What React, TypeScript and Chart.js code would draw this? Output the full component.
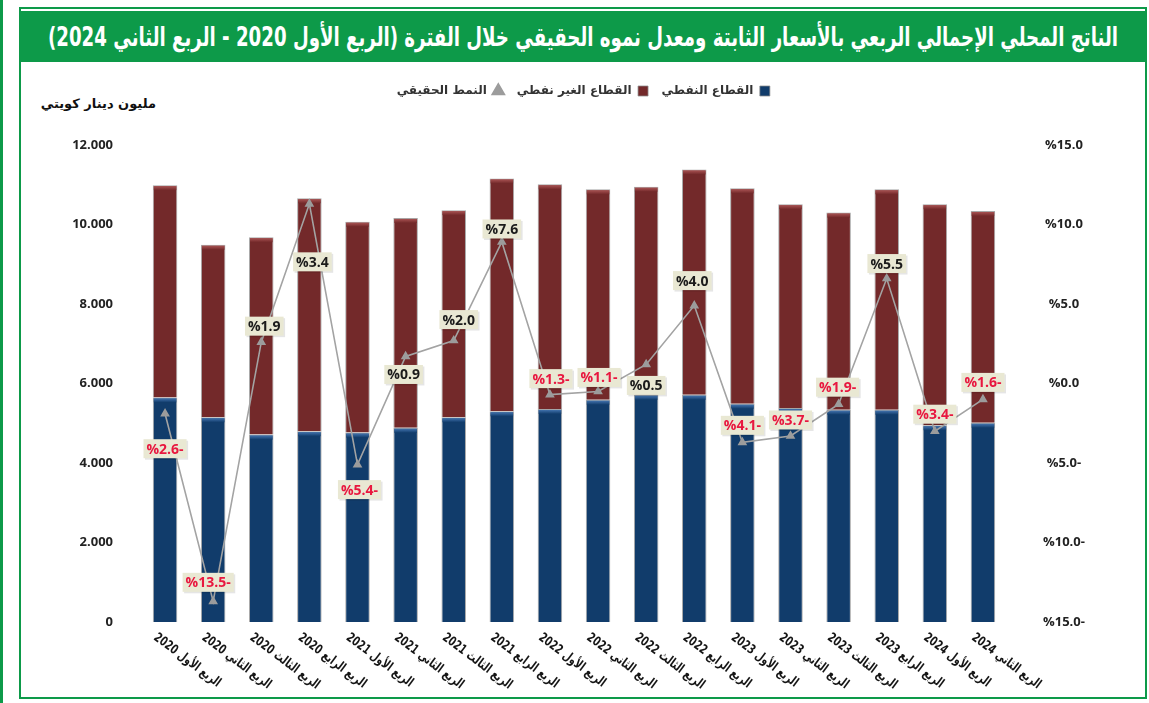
import React, { useEffect, useLayoutEffect, useRef } from 'react';
import { Chart, registerables } from 'chart.js';

Chart.register(...registerables);

// ---------- data ----------
const quarters = [
  'الربع الأول 2020', 'الربع الثاني 2020', 'الربع الثالث 2020', 'الربع الرابع 2020',
  'الربع الأول 2021', 'الربع الثاني 2021', 'الربع الثالث 2021', 'الربع الرابع 2021',
  'الربع الأول 2022', 'الربع الثاني 2022', 'الربع الثالث 2022', 'الربع الرابع 2022',
  'الربع الأول 2023', 'الربع الثاني 2023', 'الربع الثالث 2023', 'الربع الرابع 2023',
  'الربع الأول 2024', 'الربع الثاني 2024',
];

// million KWD
const oilSector = [5650, 5150, 4715, 4800, 4765, 4885, 5150, 5300, 5360, 5590, 5715, 5715, 5490, 5385, 5340, 5340, 4950, 5010];
const nonOilSector = [5340, 4340, 4965, 5860, 5305, 5280, 5210, 5860, 5650, 5295, 5235, 5670, 5420, 5125, 4960, 5545, 5560, 5330];

// real growth: plotted line positions (right axis, %) and the printed labels
const growthPlotted = [-1.9, -13.7, 2.6, 11.3, -5.1, 1.7, 2.7, 8.9, -0.7, -0.5, 1.2, 4.9, -3.7, -3.3, -1.3, 6.6, -3.0, -1.0];
const growthLabels = [-2.6, -13.5, 1.9, 3.4, -5.4, 0.9, 2.0, 7.6, -1.3, -1.1, 0.5, 4.0, -4.1, -3.7, -1.9, 5.5, -3.4, -1.6];

const leftTicks = { min: 0, max: 12000, step: 2000 };
const rightTicks = { min: -15, max: 15, step: 5 };

const seriesNames = ['القطاع النفطي', 'القطاع الغير نفطي', 'النمط الحقيقي'];
const titleText = 'الناتج المحلي الإجمالي الربعي بالأسعار الثابتة ومعدل نموه الحقيقي خلال الفترة (الربع الأول 2020 - الربع الثاني 2024)';
const unitText = 'مليون دينار كويتي';

// ---------- styles ----------
const GREEN = '#0d9a49';
const OIL = '#113c6b';
const OIL_CAP = '#4d7fbd';
const NONOIL = '#73292a';
const NONOIL_CAP = '#b55c5c';
const LINE = '#a3a3a3';
const LABEL_BG = '#e9e8d3';
const NEG = '#e8173f';
const ARABIC = '"DejaVu Sans", sans-serif';
const NUMFONT = '"Open Sans", "DejaVu Sans", sans-serif';

// label box offsets relative to each line point (px)
const labelNudge: [number, number][] = [
  [0, 35], [-5, -19], [3, -16], [3, 58], [2, 25], [-2, 18], [5, -21], [0, -13], [1, -16],
  [1, -14], [0, 21], [-2, -25], [0, -17], [0, -16], [-1, -17], [0, -15], [0, -17], [0, -17],
];

const fmtPct = (v: number) => '%' + Math.abs(v).toFixed(1) + (v < 0 ? '-' : '');

const legendSpacer = {
  id: 'legendSpacer',
  beforeInit(chart: any) {
    const fit = chart.legend.fit;
    chart.legend.fit = function () {
      fit.call(this);
      this.height += 38;
    };
  },
};

const forceLtr = {
  id: 'forceLtr',
  beforeDraw(chart: any) {
    chart.canvas.style.direction = 'ltr';
    (chart.ctx as any).direction = 'ltr';
  },
};

const barCaps = {
  id: 'barCaps',
  afterDatasetDraw(chart: any, args: any) {
    const meta = args.meta;
    if (meta.type !== 'bar') return;
    const ctx = chart.ctx;
    const cap = meta.index === 0 ? OIL_CAP : NONOIL_CAP;
    ctx.save();
    meta.data.forEach((el: any) => {
      const { x, y, width } = el.getProps(['x', 'y', 'width'], true);
      const g = ctx.createLinearGradient(0, y, 0, y + 5);
      g.addColorStop(0, cap);
      g.addColorStop(1, meta.index === 0 ? OIL : NONOIL);
      ctx.fillStyle = g;
      ctx.fillRect(x - width / 2 + 1, y + 1, width - 2, 4);
    });
    ctx.restore();
  },
};

const growthLabelPlugin = {
  id: 'growthLabelPlugin',
  afterDatasetsDraw(chart: any) {
    const meta = chart.getDatasetMeta(2);
    const ctx = chart.ctx;
    ctx.save();
    ctx.font = `bold 14px ${NUMFONT}`;
    ctx.textAlign = 'center';
    ctx.textBaseline = 'middle';
    (ctx as any).direction = 'ltr';
    meta.data.forEach((pt: any, i: number) => {
      const v = growthLabels[i];
      const text = fmtPct(v);
      const [dx, dy] = labelNudge[i];
      const cx = pt.x + dx;
      const cy = pt.y + dy;
      const w = ctx.measureText(text).width + 6;
      const h = 19;
      ctx.fillStyle = 'rgba(0,0,0,0.10)';
      ctx.fillRect(cx - w / 2 + 1.5, cy - h / 2 + 1.5, w, h);
      ctx.fillStyle = LABEL_BG;
      ctx.fillRect(cx - w / 2, cy - h / 2, w, h);
      ctx.fillStyle = v < 0 ? NEG : '#1b1b1b';
      ctx.fillText(text, cx, cy + 1);
    });
    ctx.restore();
  },
};

const xLabelPlugin = {
  id: 'xLabelPlugin',
  afterDraw(chart: any) {
    const xs = chart.scales.x;
    const ctx = chart.ctx;
    const bottom = chart.chartArea.bottom;
    ctx.save();
    ctx.font = `bold 13px ${ARABIC}`;
    ctx.fillStyle = '#151515';
    ctx.textAlign = 'left';
    ctx.textBaseline = 'top';
    (ctx as any).direction = 'rtl';
    quarters.forEach((q, i) => {
      const x = xs.getPixelForValue(i);
      ctx.save();
      ctx.translate(x - 6, bottom + 9);
      ctx.rotate((37 * Math.PI) / 180);
      ctx.scale(0.73, 1);
      ctx.fillText(q, 0, 0);
      ctx.restore();
    });
    ctx.restore();
  },
};

export default function App() {
  const canvasRef = useRef<HTMLCanvasElement>(null);
  const titleRef = useRef<HTMLSpanElement>(null);

  useLayoutEffect(() => {
    const el = titleRef.current;
    if (!el) return;
    el.style.transform = 'none';
    const w = el.getBoundingClientRect().width;
    if (w > 0) el.style.transform = `scaleX(${1070 / w})`;
  }, []);

  useEffect(() => {
    const canvas = canvasRef.current;
    if (!canvas) return;
    const chart = new Chart(canvas, {
      type: 'bar',
      data: {
        labels: quarters,
        datasets: [
          {
            type: 'bar',
            label: seriesNames[0],
            data: oilSector,
            backgroundColor: OIL,
            borderColor: 'rgba(140,140,140,0.75)',
            borderWidth: 1,
            yAxisID: 'y',
            stack: 'gdp',
            order: 1,
            pointStyle: 'rect',
            barPercentage: 0.51,
            categoryPercentage: 1,
          } as any,
          {
            type: 'bar',
            label: seriesNames[1],
            data: nonOilSector,
            backgroundColor: NONOIL,
            borderColor: 'rgba(140,140,140,0.75)',
            borderWidth: 1,
            yAxisID: 'y',
            stack: 'gdp',
            order: 1,
            pointStyle: 'rect',
            barPercentage: 0.51,
            categoryPercentage: 1,
          } as any,
          {
            type: 'line',
            label: seriesNames[2],
            data: growthPlotted,
            yAxisID: 'y1',
            borderColor: LINE,
            backgroundColor: '#9c9c9c',
            borderWidth: 1.6,
            pointStyle: 'triangle',
            pointRadius: 4,
            pointBackgroundColor: '#9c9c9c',
            pointBorderColor: '#9c9c9c',
            tension: 0,
            order: 0,
          } as any,
        ],
      },
      options: {
        responsive: false,
        animation: false,
        devicePixelRatio: 1,
        layout: { padding: { top: 2, left: 20, right: 17, bottom: 73 } },
        plugins: {
          legend: {
            position: 'top',
            rtl: true,
            textDirection: 'ltr',
            labels: {
              usePointStyle: true,
              boxWidth: 11,
              boxHeight: 10,
              padding: 13,
              color: '#333',
              font: { size: 12, weight: 'bold', family: ARABIC },
              sort: (a: any, b: any) => a.datasetIndex - b.datasetIndex,
            },
          },
          tooltip: { enabled: false },
          title: { display: false },
        },
        scales: {
          x: {
            display: false,
            stacked: true,
            offset: true,
            grid: { display: false },
          },
          y: {
            position: 'left',
            stacked: true,
            min: leftTicks.min,
            max: leftTicks.max,
            grid: { display: false, drawTicks: false },
            border: { display: false },
            ticks: {
              stepSize: leftTicks.step,
              padding: 28,
              color: '#222',
              font: { size: 13, weight: 'bold', family: NUMFONT },
              callback: (v: any) => (Number(v) === 0 ? '0' : (Number(v) / 1000).toFixed(3)),
            },
            afterFit: (s: any) => {
              s.width = 99;
            },
          },
          y1: {
            position: 'right',
            min: rightTicks.min,
            max: rightTicks.max,
            grid: { display: false, drawTicks: false },
            border: { display: false },
            ticks: {
              stepSize: rightTicks.step,
              padding: 36,
              crossAlign: 'center',
              color: '#222',
              font: { size: 13, weight: 'bold', family: NUMFONT },
              callback: (v: any) => fmtPct(Number(v)),
            },
            afterFit: (s: any) => {
              s.width = 118;
            },
          },
        },
      } as any,
      plugins: [forceLtr, legendSpacer, barCaps, growthLabelPlugin, xLabelPlugin],
    });
    return () => chart.destroy();
  }, []);

  return (
    <div style={{ position: 'absolute', left: 0, top: 0, width: 1149, height: 703, background: '#fff', overflow: 'hidden' }}>
      <div style={{ position: 'absolute', left: 0, top: 0, width: 3, height: 703, background: GREEN }} />
      <div
        style={{
          position: 'absolute', left: 19, top: 7, width: 1128, height: 692,
          border: `2px solid ${GREEN}`, boxSizing: 'border-box',
        }}
      />
      <div
        style={{
          position: 'absolute', left: 21, top: 11, width: 1124, height: 51, background: GREEN,
          display: 'flex', alignItems: 'center', justifyContent: 'center', overflow: 'hidden',
        }}
      >
        <span
          ref={titleRef}
          dir="rtl"
          style={{
            display: 'inline-block', whiteSpace: 'nowrap', color: '#fff', fontWeight: 'bold',
            fontSize: 26, fontFamily: ARABIC, transformOrigin: 'center', lineHeight: 1,
          }}
        >
          {titleText}
        </span>
      </div>
      <div
        dir="rtl"
        style={{
          position: 'absolute', left: 20, top: 95, width: 136, textAlign: 'right',
          fontFamily: ARABIC, fontWeight: 'bold', fontSize: 13, color: '#111', lineHeight: '18px',
        }}
      >
        {unitText}
      </div>
      <canvas
        ref={canvasRef}
        width={1120}
        height={625}
        style={{ position: 'absolute', left: 22, top: 70, width: 1120, height: 625, direction: 'ltr' }}
      />
    </div>
  );
}
